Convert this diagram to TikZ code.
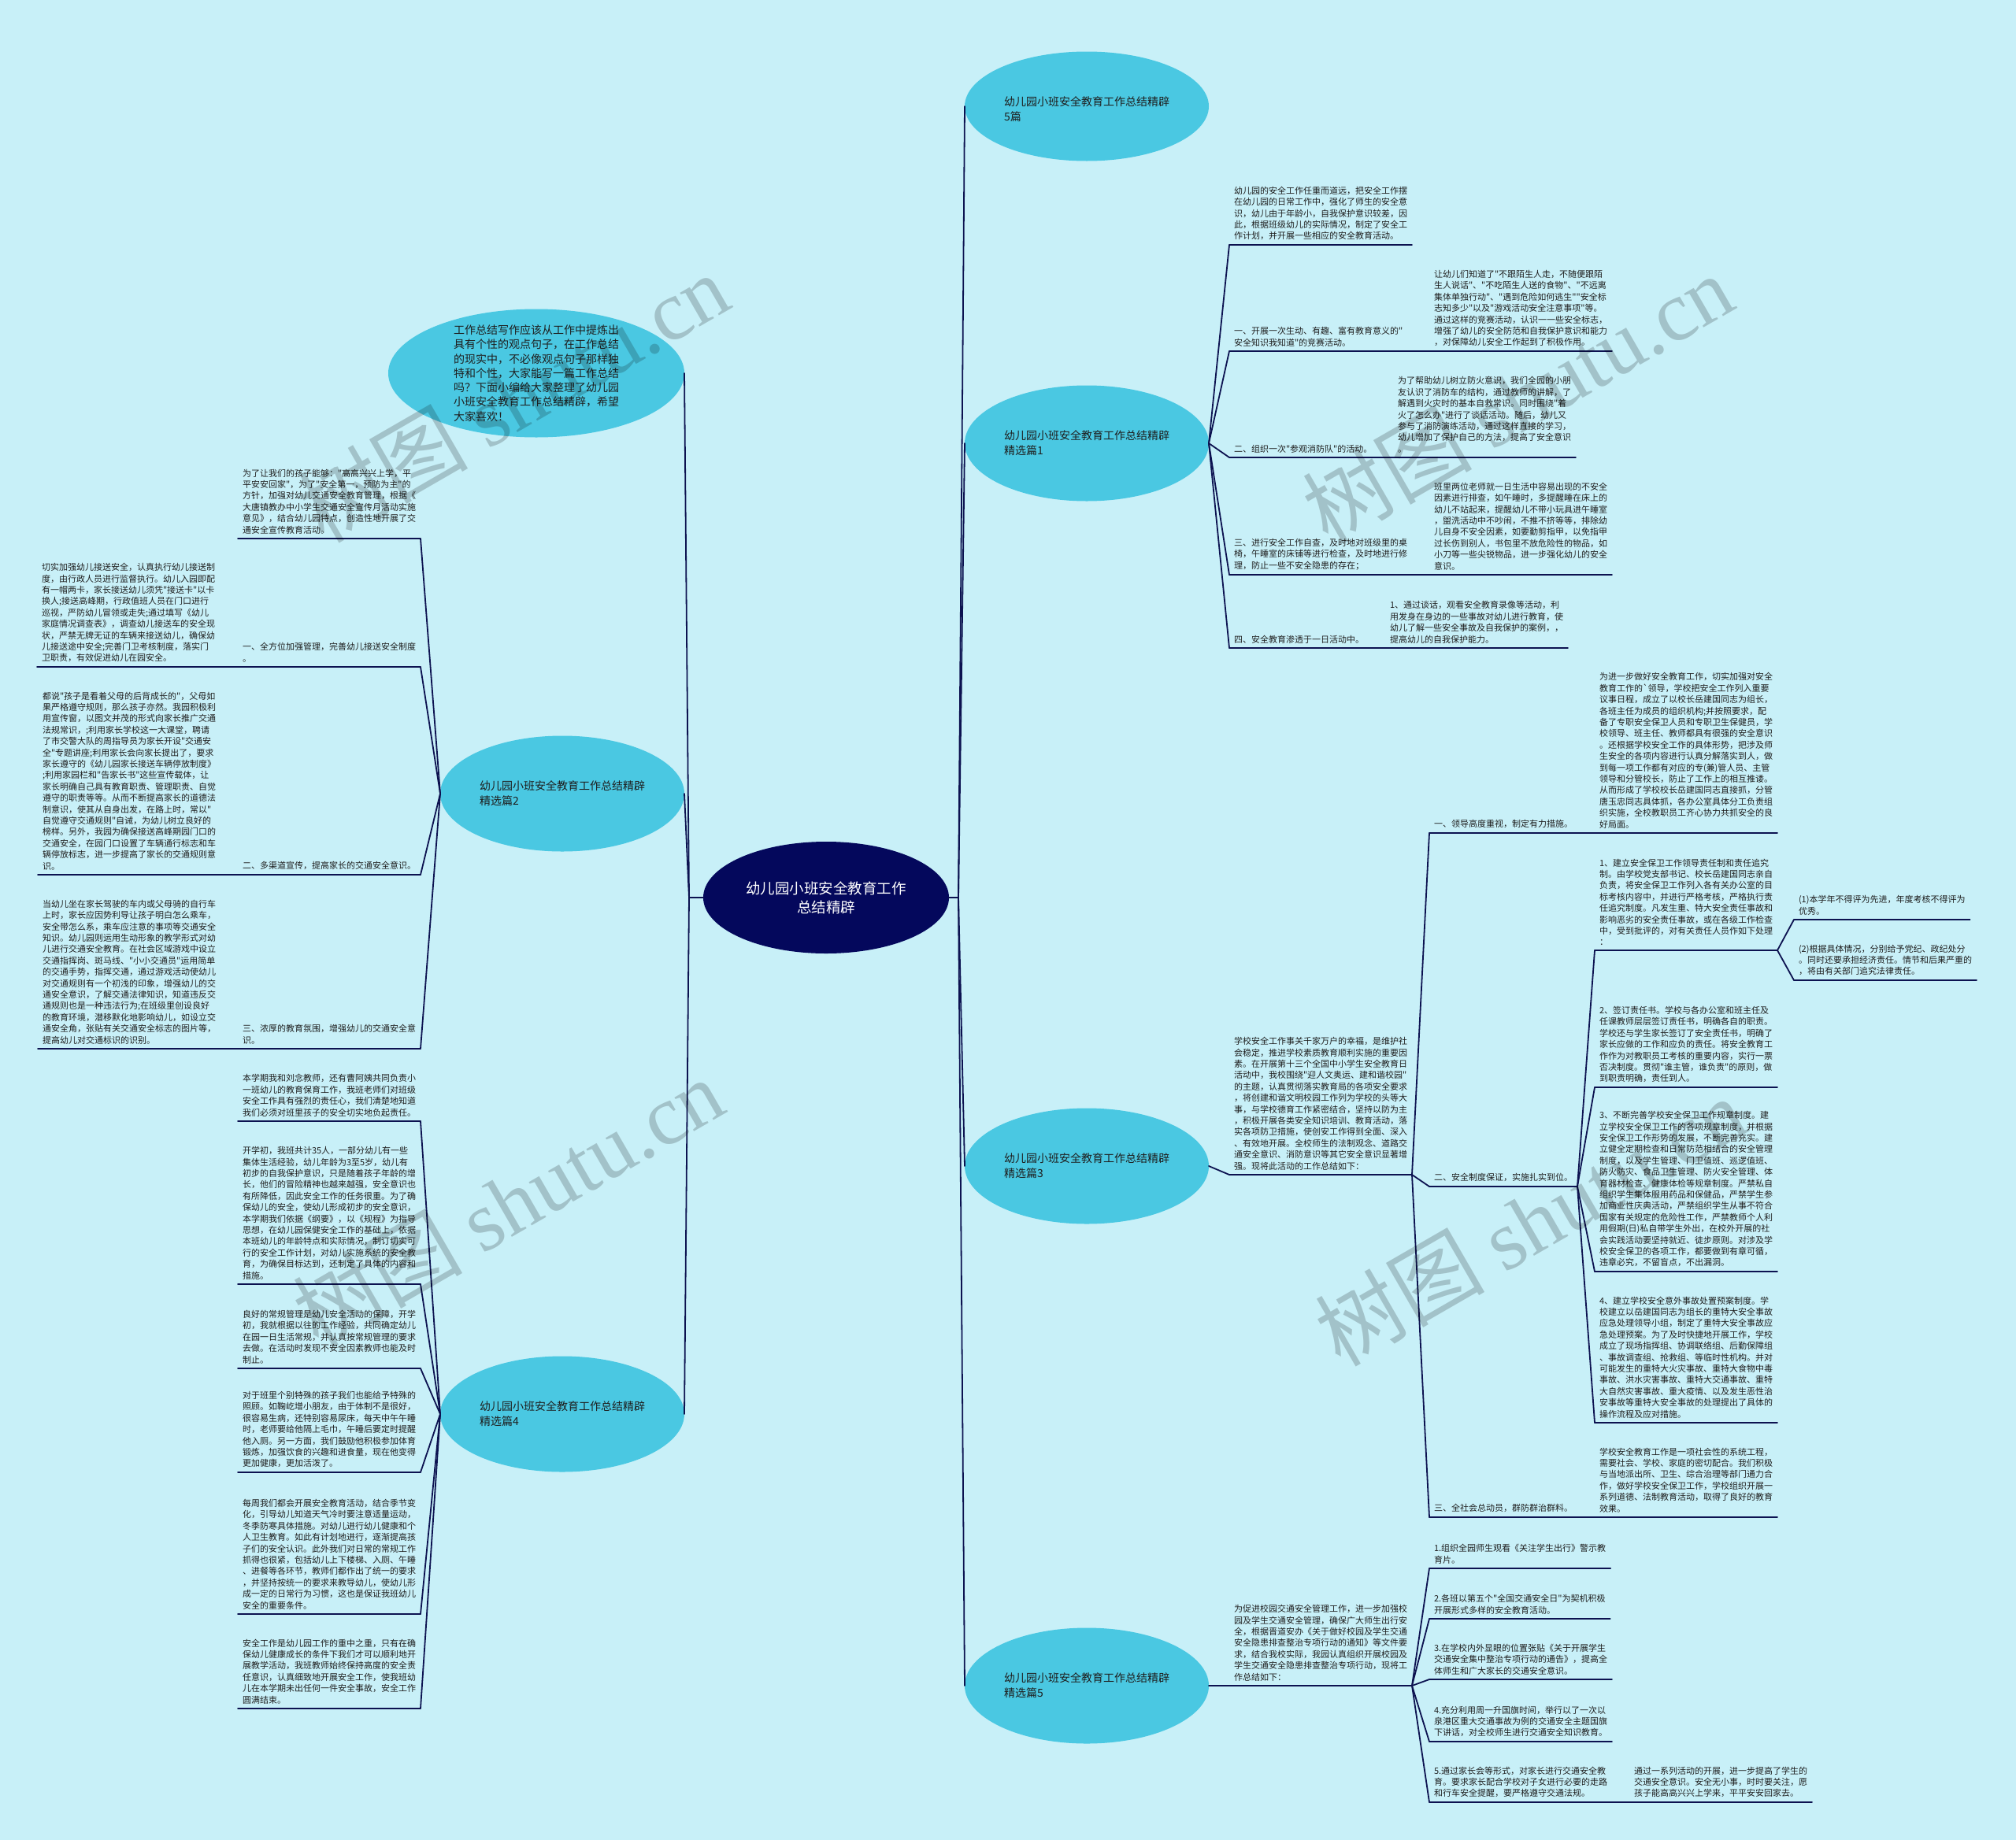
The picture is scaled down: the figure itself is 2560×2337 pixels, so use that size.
\documentclass[tikz,border=0pt]{standalone}
\usepackage{fontspec}
\newfontfamily\cjk{Noto Sans CJK SC}[Ligatures=TeXOff]
\newfontfamily\wmlatin{Liberation Serif}
\usetikzlibrary{shapes.geometric}
\definecolor{bgc}{RGB}{200,240,248}
\definecolor{elc}{RGB}{74,200,226}
\definecolor{ctc}{RGB}{4,8,92}
\definecolor{lnc}{RGB}{12,18,80}
\definecolor{txc}{RGB}{30,30,30}
\tikzset{
  ln/.style={draw=lnc, line width=1.8pt, line cap=round, line join=round},
  txt/.style={anchor=south west, inner xsep=6pt, inner ysep=6pt, outer sep=0pt, align=left, text=txc, font=\cjk\fontsize{11}{14.4}\selectfont},
  branch/.style={ellipse, fill=elc, draw=none, inner sep=0pt, outer sep=0pt, minimum width=310pt, minimum height=147pt},
  btext/.style={align=left, text=txc, inner sep=0pt, font=\cjk\fontsize{14}{19}\selectfont},
  wm/.style={text=black, opacity=0.19, inner sep=0pt, rotate=30, font=\cjk\fontsize{108}{108}\selectfont},
}
\begin{document}
\begin{tikzpicture}[x=1pt,y=-1pt]
\useasboundingbox (0,0) rectangle (2560,2337);
\fill[bgc] (0,0) rectangle (2560,2337);

% ---------- ellipses ----------
\node[ellipse, fill=ctc, inner sep=0pt, outer sep=0pt, minimum width=312pt, minimum height=142pt] (c) at (1049,1140) {};
\node[text=white, align=center, inner sep=0pt, font=\cjk\fontsize{18.5}{24}\selectfont] (ct) at (c.center) {幼儿园小班安全教育工作\\总结精辟};

\node[branch, minimum width=376pt, minimum height=163pt] (eI) at (681,474) {};
\node[align=left, text=txc, inner sep=0pt, font=\cjk\fontsize{14}{18.3}\selectfont] (eIt) at (eI.center) {工作总结写作应该从工作中提炼出\\具有个性的观点句子，在工作总结\\的现实中，不必像观点句子那样独\\特和个性，大家能写一篇工作总结\\吗？下面小编给大家整理了幼儿园\\小班安全教育工作总结精辟，希望\\大家喜欢！};

\node[branch] (e2) at (714,1008) {};
\node[btext] (e2t) at (e2.center) {幼儿园小班安全教育工作总结精辟\\精选篇2};
\node[branch] (e4) at (714,1796) {};
\node[btext] (e4t) at (e4.center) {幼儿园小班安全教育工作总结精辟\\精选篇4};
\node[branch, minimum height=139pt] (e0) at (1380,135) {};
\node[btext] (e0t) at ([yshift=-4pt]e0.center) {幼儿园小班安全教育工作总结精辟\\5篇};
\node[branch] (e1) at (1380,563) {};
\node[btext] (e1t) at (e1.center) {幼儿园小班安全教育工作总结精辟\\精选篇1};
\node[branch] (e3) at (1380,1481) {};
\node[btext] (e3t) at (e3.center) {幼儿园小班安全教育工作总结精辟\\精选篇3};
\node[branch] (e5) at (1380,2141) {};
\node[btext] (e5t) at (e5.center) {幼儿园小班安全教育工作总结精辟\\精选篇5};

% ---------- left: 精选篇2 ----------
\node[txt] (la) at (302,684) {为了让我们的孩子能够："高高兴兴上学，平\\平安安回家"，为了"安全第一，预防为主"的\\方针，加强对幼儿交通安全教育管理，根据《\\大唐镇教办中小学生交通安全宣传月活动实施\\意见》，结合幼儿园特点，创造性地开展了交\\通安全宣传教育活动。};
\node[txt] (lb1) at (302,847) {一、全方位加强管理，完善幼儿接送安全制度\\。};
\node[txt] (lb2) at (47,847) {切实加强幼儿接送安全，认真执行幼儿接送制\\度，由行政人员进行监督执行。幼儿入园即配\\有一帽两卡，家长接送幼儿须凭"接送卡"以卡\\换人;接送高峰期，行政值班人员在门口进行\\巡视，严防幼儿冒领或走失;通过填写《幼儿\\家庭情况调查表》，调查幼儿接送车的安全现\\状，严禁无牌无证的车辆来接送幼儿，确保幼\\儿接送途中安全;完善门卫考核制度，落实门\\卫职责，有效促进幼儿在园安全。};
\node[txt] (lc1) at (302,1111) {二、多渠道宣传，提高家长的交通安全意识。};
\node[txt] (lc2) at (48,1111) {都说"孩子是看着父母的后背成长的"，父母如\\果严格遵守规则，那么孩子亦然。我园积极利\\用宣传窗，以图文并茂的形式向家长推广交通\\法规常识，;利用家长学校这一大课堂，聘请\\了市交警大队的周指导员为家长开设"交通安\\全"专题讲座;利用家长会向家长提出了，要求\\家长遵守的《幼儿园家长接送车辆停放制度》\\;利用家园栏和"告家长书"这些宣传载体，让\\家长明确自己具有教育职责、管理职责、自觉\\遵守的职责等等。从而不断提高家长的道德法\\制意识，使其从自身出发，在路上时，常以"\\自觉遵守交通规则"自诫，为幼儿树立良好的\\榜样。另外，我园为确保接送高峰期园门口的\\交通安全，在园门口设置了车辆通行标志和车\\辆停放标志，进一步提高了家长的交通规则意\\识。};
\node[txt] (ld1) at (302,1332) {三、浓厚的教育氛围，增强幼儿的交通安全意\\识。};
\node[txt] (ld2) at (48,1332) {当幼儿坐在家长驾驶的车内或父母骑的自行车\\上时，家长应因势利导让孩子明白怎么乘车，\\安全带怎么系，乘车应注意的事项等交通安全\\知识。幼儿园则运用生动形象的教学形式对幼\\儿进行交通安全教育。在社会区域游戏中设立\\交通指挥岗、斑马线、"小小交通员"运用简单\\的交通手势，指挥交通，通过游戏活动使幼儿\\对交通规则有一个初浅的印象，增强幼儿的交\\通安全意识，了解交通法律知识，知道违反交\\通规则也是一种违法行为;在班级里创设良好\\的教育环境，潜移默化地影响幼儿，如设立交\\通安全角，张贴有关交通安全标志的图片等，\\提高幼儿对交通标识的识别。};

% ---------- left: 精选篇4 ----------
\node[txt] (m1) at (302,1424) {本学期我和刘念教师，还有曹阿姨共同负责小\\一班幼儿的教育保育工作，我班老师们对班级\\安全工作具有强烈的责任心，我们清楚地知道\\我们必须对班里孩子的安全切实地负起责任。};
\node[txt] (m2) at (302,1631) {开学初，我班共计35人，一部分幼儿有一些\\集体生活经验，幼儿年龄为3至5岁，幼儿有\\初步的自我保护意识，只是随着孩子年龄的增\\长，他们的冒险精神也越来越强，安全意识也\\有所降低，因此安全工作的任务很重。为了确\\保幼儿的安全，使幼儿形成初步的安全意识，\\本学期我们依据《纲要》，以《规程》为指导\\思想，在幼儿园保健安全工作的基础上，依据\\本班幼儿的年龄特点和实际情况，制订切实可\\行的安全工作计划，对幼儿实施系统的安全教\\育，为确保目标达到，还制定了具体的内容和\\措施。};
\node[txt] (m3) at (302,1738) {良好的常规管理是幼儿安全活动的保障，开学\\初，我就根据以往的工作经验，共同确定幼儿\\在园一日生活常规，并认真按常规管理的要求\\去做。在活动时发现不安全因素教师也能及时\\制止。};
\node[txt] (m4) at (302,1870) {对于班里个别特殊的孩子我们也能给予特殊的\\照顾。如鞠屹增小朋友，由于体制不是很好，\\很容易生病，还特别容易尿床，每天中午午睡\\时，老师要给他隔上毛巾，午睡后要定时提醒\\他入厕。另一方面，我们鼓励他积极参加体育\\锻炼，加强饮食的兴趣和进食量，现在他变得\\更加健康，更加活泼了。};
\node[txt] (m5) at (302,2050) {每周我们都会开展安全教育活动，结合季节变\\化，引导幼儿知道天气冷时要注意适量运动，\\冬季防寒具体措施。对幼儿进行幼儿健康和个\\人卫生教育。如此有计划地进行，逐渐提高孩\\子们的安全认识。此外我们对日常的常规工作\\抓得也很紧，包括幼儿上下楼梯、入厕、午睡\\、进餐等各环节，教师们都作出了统一的要求\\，并坚持按统一的要求来教导幼儿，使幼儿形\\成一定的日常行为习惯，这也是保证我班幼儿\\安全的重要条件。};
\node[txt] (m6) at (302,2170) {安全工作是幼儿园工作的重中之重，只有在确\\保幼儿健康成长的条件下我们才可以顺利地开\\展教学活动，我班教师始终保持高度的安全责\\任意识，认真细致地开展安全工作，使我班幼\\儿在本学期未出任何一件安全事故，安全工作\\圆满结束。};

% ---------- right: 精选篇1 ----------
\node[txt] (r0) at (1561,311) {幼儿园的安全工作任重而道远，把安全工作摆\\在幼儿园的日常工作中，强化了师生的安全意\\识，幼儿由于年龄小，自我保护意识较差，因\\此，根据班级幼儿的实际情况，制定了安全工\\作计划，并开展一些相应的安全教育活动。};
\node[txt] (r1) at (1561,446) {一、开展一次生动、有趣、富有教育意义的"\\安全知识我知道"的竞赛活动。};
\node[txt] (r1c) at (1815,446) {让幼儿们知道了"不跟陌生人走，不随便跟陌\\生人说话"、"不吃陌生人送的食物"、"不远离\\集体单独行动"、"遇到危险如何逃生""安全标\\志知多少"以及"游戏活动安全注意事项"等。\\通过这样的竞赛活动，认识一一些安全标志，\\增强了幼儿的安全防范和自我保护意识和能力\\，对保障幼儿安全工作起到了积极作用。};
\node[txt] (r2) at (1561,581) {二、组织一次"参观消防队"的活动。};
\node[txt] (r2c) at (1769,581) {为了帮助幼儿树立防火意识，我们全园的小朋\\友认识了消防车的结构，通过教师的讲解，了\\解遇到火灾时的基本自救常识。同时围绕"着\\火了怎么办"进行了谈话活动。随后，幼儿又\\参与了消防演练活动，通过这样直接的学习，\\幼儿增加了保护自己的方法，提高了安全意识\\。};
\node[txt] (r3) at (1561,730) {三、进行安全工作自查，及时地对班级里的桌\\椅，午睡室的床铺等进行检查，及时地进行修\\理，防止一些不安全隐患的存在；};
\node[txt] (r3c) at (1815,730) {班里两位老师就一日生活中容易出现的不安全\\因素进行排查，如午睡时，多提醒睡在床上的\\幼儿不站起来，提醒幼儿不带小玩具进午睡室\\，盥洗活动中不吵闹，不推不挤等等，排除幼\\儿自身不安全因素，如要勤剪指甲，以免指甲\\过长伤到别人，书包里不放危险性的物品，如\\小刀等一些尖锐物品，进一步强化幼儿的安全\\意识。};
\node[txt] (r4) at (1561,823) {四、安全教育渗透于一日活动中。};
\node[txt] (r4c) at (1759,823) {1、通过谈话，观看安全教育录像等活动，利\\用发身在身边的一些事故对幼儿进行教育，使\\幼儿了解一些安全事故及自我保护的案例，，\\提高幼儿的自我保护能力。};

% ---------- right: 精选篇3 ----------
\node[txt] (s0) at (1561,1492) {学校安全工作事关千家万户的幸福，是维护社\\会稳定，推进学校素质教育顺利实施的重要因\\素。在开展第十三个全国中小学生安全教育日\\活动中，我校围绕"迎人文奥运、建和谐校园"\\的主题，认真贯彻落实教育局的各项安全要求\\，将创建和谐文明校园工作列为学校的头等大\\事，与学校德育工作紧密结合，坚持以防为主\\，积极开展各类安全知识培训、教育活动，落\\实各项防卫措施，使创安工作得到全面、深入\\、有效地开展。全校师生的法制观念、道路交\\通安全意识、消防意识等其它安全意识显著增\\强。现将此活动的工作总结如下：};
\node[txt] (s1) at (1815,1058) {一、领导高度重视，制定有力措施。};
\node[txt] (s1c) at (2025,1058) {为进一步做好安全教育工作，切实加强对安全\\教育工作的`领导，学校把安全工作列入重要\\议事日程，成立了以校长岳建国同志为组长，\\各班主任为成员的组织机构;并按照要求，配\\备了专职安全保卫人员和专职卫生保健员，学\\校领导、班主任、教师都具有很强的安全意识\\。还根据学校安全工作的具体形势，把涉及师\\生安全的各项内容进行认真分解落实到人，做\\到每一项工作都有对应的专(兼)管人员、主管\\领导和分管校长，防止了工作上的相互推诿。\\从而形成了学校校长岳建国同志直接抓，分管\\唐玉忠同志具体抓，各办公室具体分工负责组\\织实施，全校教职员工齐心协力共抓安全的良\\好局面。};
\node[txt] (s2) at (1815,1507) {二、安全制度保证，实施扎实到位。};
\node[txt] (s2a) at (2025,1207) {1、建立安全保卫工作领导责任制和责任追究\\制。由学校党支部书记、校长岳建国同志亲自\\负责，将安全保卫工作列入各有关办公室的目\\标考核内容中，并进行严格考核，严格执行责\\任追究制度。凡发生重、特大安全责任事故和\\影响恶劣的安全责任事故，或在各级工作检查\\中，受到批评的，对有关责任人员作如下处理\\：};
\node[txt] (s2a1) at (2278,1168) {(1)本学年不得评为先进，年度考核不得评为\\优秀。};
\node[txt] (s2a2) at (2278,1245) {(2)根据具体情况，分别给予党纪、政纪处分\\。同时还要承担经济责任。情节和后果严重的\\，将由有关部门追究法律责任。};
\node[txt] (s2b) at (2025,1381) {2、签订责任书。学校与各办公室和班主任及\\任课教师层层签订责任书，明确各自的职责。\\学校还与学生家长签订了安全责任书，明确了\\家长应做的工作和应负的责任。将安全教育工\\作作为对教职员工考核的重要内容，实行一票\\否决制度。贯彻"谁主管，谁负责"的原则，做\\到职责明确，责任到人。};
\node[txt] (s2c) at (2025,1615) {3、不断完善学校安全保卫工作规章制度。建\\立学校安全保卫工作的各项规章制度，并根据\\安全保卫工作形势的发展，不断完善充实。建\\立健全定期检查和日常防范相结合的安全管理\\制度，以及学生管理、门卫值班、巡逻值班、\\防火防灾、食品卫生管理、防火安全管理、体\\育器材检查、健康体检等规章制度。严禁私自\\组织学生集体服用药品和保健品，严禁学生参\\加商业性庆典活动，严禁组织学生从事不符合\\国家有关规定的危险性工作，严禁教师个人利\\用假期(日)私自带学生外出，在校外开展的社\\会实践活动要坚持就近、徒步原则。对涉及学\\校安全保卫的各项工作，都要做到有章可循，\\违章必究，不留盲点，不出漏洞。};
\node[txt] (s2d) at (2025,1807) {4、建立学校安全意外事故处置预案制度。学\\校建立以岳建国同志为组长的重特大安全事故\\应急处理领导小组，制定了重特大安全事故应\\急处理预案。为了及时快捷地开展工作，学校\\成立了现场指挥组、协调联络组、后勤保障组\\、事故调查组、抢救组、等临时性机构。并对\\可能发生的重特大火灾事故、重特大食物中毒\\事故、洪水灾害事故、重特大交通事故、重特\\大自然灾害事故、重大疫情、以及发生恶性治\\安事故等重特大安全事故的处理提出了具体的\\操作流程及应对措施。};
\node[txt] (s3) at (1815,1927) {三、全社会总动员，群防群治群料。};
\node[txt] (s3c) at (2025,1927) {学校安全教育工作是一项社会性的系统工程，\\需要社会、学校、家庭的密切配合。我们积极\\与当地派出所、卫生、综合治理等部门通力合\\作，做好学校安全保卫工作，学校组织开展一\\系列道德、法制教育活动，取得了良好的教育\\效果。};

% ---------- right: 精选篇5 ----------
\node[txt] (t0) at (1561,2141) {为促进校园交通安全管理工作，进一步加强校\\园及学生交通安全管理，确保广大师生出行安\\全，根据晋道安办《关于做好校园及学生交通\\安全隐患排查整治专项行动的通知》等文件要\\求，结合我校实际，我园认真组织开展校园及\\学生交通安全隐患排查整治专项行动，现将工\\作总结如下：};
\node[txt] (t1) at (1815,1992) {1.组织全园师生观看《关注学生出行》警示教\\育片。};
\node[txt] (t2) at (1815,2056) {2.各班以第五个"全国交通安全日"为契机积极\\开展形式多样的安全教育活动。};
\node[txt] (t3) at (1815,2133) {3.在学校内外显眼的位置张贴《关于开展学生\\交通安全集中整治专项行动的通告》，提高全\\体师生和广大家长的交通安全意识。};
\node[txt] (t4) at (1815,2212) {4.充分利用周一升国旗时间，举行以了一次以\\泉港区重大交通事故为例的交通安全主题国旗\\下讲话，对全校师生进行交通安全知识教育。};
\node[txt] (t5) at (1815,2289) {5.通过家长会等形式，对家长进行交通安全教\\育。要求家长配合学校对子女进行必要的走路\\和行车安全提醒，要严格遵守交通法规。};
\node[txt] (t5c) at (2069,2289) {通过一系列活动的开展，进一步提高了学生的\\交通安全意识。安全无小事，时时要关注，愿\\孩子能高高兴兴上学来，平平安安回家去。};

% ---------- underlines ----------
\foreach \n in {la,lb1,lb2,lc1,lc2,ld1,ld2,m1,m2,m3,m4,m5,m6,r0,r1,r1c,r2,r2c,r3,r3c,r4,r4c,s0,s1,s1c,s2,s2a,s2a1,s2a2,s2b,s2c,s2d,s3,s3c,t0,t1,t2,t3,t4,t5,t5c}
  \draw[ln] (\n.south west) -- (\n.south east);

% ---------- connectors ----------
\foreach \e in {e0,e1,e3,e5} \draw[ln] (c.east) -- ++(12,0) -- (\e.west);
\foreach \e in {eI,e2,e4} \draw[ln] (c.west) -- ++(-18,0) -- (\e.east);
\foreach \k in {r0,r1,r2,r3,r4} \draw[ln] (e1.east) -- (\k.south west);
\draw[ln] (r1.south east) -- (r1c.south west);
\draw[ln] (r2.south east) -- (r2c.south west);
\draw[ln] (r3.south east) -- (r3c.south west);
\draw[ln] (r4.south east) -- (r4c.south west);
\draw[ln] (e3.east) -- (s0.south west);
\foreach \k in {s1,s2,s3} \draw[ln] (s0.south east) -- (\k.south west);
\draw[ln] (s1.south east) -- (s1c.south west);
\draw[ln] (s3.south east) -- (s3c.south west);
\foreach \k in {s2a,s2b,s2c,s2d} \draw[ln] (s2.south east) -- (\k.south west);
\foreach \k in {s2a1,s2a2} \draw[ln] (s2a.south east) -- (\k.south west);
\draw[ln] (e5.east) -- (t0.south west);
\foreach \k in {t1,t2,t3,t4,t5} \draw[ln] (t0.south east) -- (\k.south west);
\draw[ln] (t5.south east) -- (t5c.south west);
\foreach \k in {la,lb1,lc1,ld1} \draw[ln] (e2.west) -- (\k.south east);
\draw[ln] (lb1.south west) -- (lb2.south east);
\draw[ln] (lc1.south west) -- (lc2.south east);
\draw[ln] (ld1.south west) -- (ld2.south east);
\foreach \k in {m1,m2,m3,m4,m5,m6} \draw[ln] (e4.west) -- (\k.south east);

% ---------- watermarks ----------
\node[wm] (w1) at (652,505) {树图 {\wmlatin shutu.cn}};
\node[wm] (w2) at (1927,506) {树图 {\wmlatin shutu.cn}};
\node[wm] (w3) at (645,1527) {树图 {\wmlatin shutu.cn}};
\node[wm] (w4) at (1943,1551) {树图 {\wmlatin shutu.cn}};
\end{tikzpicture}
\end{document}
